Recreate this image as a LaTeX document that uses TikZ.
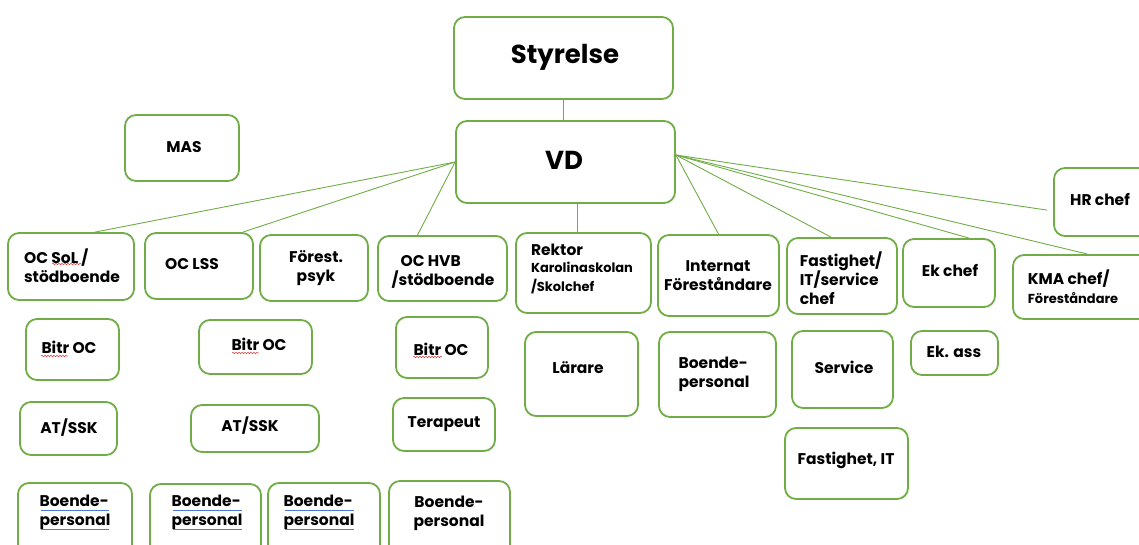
\documentclass[tikz,border=0pt]{standalone}
\usepackage{fontspec}
\setmainfont{Poppins}
\usetikzlibrary{calc,decorations.pathmorphing}

\definecolor{boxgreen}{HTML}{70AD47}
\definecolor{spellred}{HTML}{E03C3C}
\definecolor{gramblue}{HTML}{4A7BD0}

% a rounded box given by its corners (left, top, right, bottom)
\newcommand\orgbox[5]{%
  \node[box, minimum width={#4-#2}, minimum height={#5-#3}] (#1) at ({(#2+#4)/2},{(#3+#5)/2}) {};}
\newcommand\smallsize{\fontsize{13}{15}\selectfont}

\tikzset{
  box/.style={draw=boxgreen, line width=1.8pt, rounded corners=11pt, fill=white, inner sep=0pt},
  lbl/.style={font=\bfseries\fontsize{15.5}{19}\selectfont, inner sep=0pt, align=left},
  big/.style={font=\bfseries\fontsize{26}{30}\selectfont, inner sep=0pt},
  link/.style={draw=boxgreen, line width=0.9pt},
  wavemark/.style={draw=spellred, line width=0.5pt, decorate,
    decoration={snake, segment length=3pt, amplitude=0.8pt}},
  dblmark/.style={draw=gramblue, line width=0.5pt, double distance=1pt, double=white},
}

\begin{document}
\begin{tikzpicture}[x=1pt,y=-1pt]
\useasboundingbox (0,0) rectangle (1139,545);

% top level
\orgbox{styrelse}{454}{17}{673}{99}
\orgbox{vd}{456}{121}{675}{203}
\orgbox{mas}{125}{115}{239}{181}
\orgbox{hr}{1054}{168}{1152}{236}

% heads of units
\orgbox{ocsol}{8}{233}{134}{300}
\orgbox{oclss}{145}{233}{253}{299}
\orgbox{psyk}{260}{235}{368}{301}
\orgbox{ochvb}{378}{236}{507}{301}
\orgbox{rektor}{516}{233}{651}{313}
\orgbox{internat}{658}{235}{779}{316}
\orgbox{fastchef}{787}{238}{897}{314}
\orgbox{ekchef}{903}{239}{995}{307}
\orgbox{kma}{1013}{255}{1152}{319}

% second level
\orgbox{bitrA}{26}{319}{119}{380}
\orgbox{bitrB}{199}{320}{312}{374}
\orgbox{bitrC}{396}{317}{488}{378}
\orgbox{larare}{525}{332}{638}{416}
\orgbox{boendeI}{659}{332}{776}{417}
\orgbox{service}{792}{331}{893}{408}
\orgbox{ekass}{911}{331}{998}{375}
\orgbox{fastit}{785}{428}{908}{499}

% third level
\orgbox{atA}{20}{402}{117}{455}
\orgbox{atB}{191}{405}{319}{452}
\orgbox{terapeut}{393}{398}{495}{451}

% staff
\orgbox{boendeA}{18}{483}{132}{560}
\orgbox{boendeB}{150}{484}{261}{560}
\orgbox{boendeC}{268}{483}{380}{560}
\orgbox{boendeD}{389}{481}{510}{560}

% labels
\node[big] (styrelse-t) at (565,57) {Styrelse};
\node[big] (vd-t) at (564,160) {VD};
\node[lbl] (mas-t) at (184,147) {MAS};
\node[lbl] (hr-t) at (1100,199) {HR chef};

\node[lbl] (ocsol-t) at (72,266) {OC SoL /\\stödboende};
\node[lbl] (oclss-t) at (192,264) {OC LSS};
\node[lbl, align=center] (psyk-t) at (316,268) {Förest.\\psyk};
\node[lbl] (ochvb-t) at (443,272) {\hspace*{9pt}OC HVB\\/stödboende};
\node[lbl] (rektor-t) at (582,269) {Rektor\\[-2pt]\smallsize Karolinaskolan\\\smallsize /Skolchef};
\node[lbl, align=center] (internat-t) at (718,276) {Internat\\Föreståndare};
\node[lbl] (fastchef-t) at (841,278) {Fastighet/\\IT/service\\chef};
\node[lbl] (ekchef-t) at (950,270) {Ek chef};
\node[lbl] (kma-t) at (1073,287) {KMA chef/\\\smallsize Föreståndare};

\node[lbl] (bitrA-t) at (69,347) {Bitr OC};
\node[lbl] (bitrB-t) at (259,344) {Bitr OC};
\node[lbl] (bitrC-t) at (441,349) {Bitr OC};
\node[lbl] (larare-t) at (578,368) {Lärare};
\node[lbl] (boendeI-t) at (714,374) {Boende-\\personal};
\node[lbl] (service-t) at (844,367) {Service};
\node[lbl] (ekass-t) at (954,352) {Ek. ass};
\node[lbl] (fastit-t) at (846,460) {Fastighet, IT};

\node[lbl] (atA-t) at (69,428) {AT/SSK};
\node[lbl] (atB-t) at (250,426) {AT/SSK};
\node[lbl] (terapeut-t) at (444,424) {Terapeut};

\node[lbl] (boendeA-t) at (75,512) {Boende-\\personal};
\node[lbl] (boendeB-t) at (207,512) {Boende-\\personal};
\node[lbl] (boendeC-t) at (319,512) {Boende-\\personal};
\node[lbl, align=center] (boendeD-t) at (449,513) {Boende-\\personal};

% proofing marks
\draw[wavemark] (52,264) -- (82,264);
\draw[wavemark] (41,356) -- (68,356);
\draw[wavemark] (232,353) -- (259,353);
\draw[wavemark] (413,357) -- (442,357);
\foreach \l/\r in {41/109, 173/242, 285/354} {
  \draw[dblmark] (\l,509.5) -- (\r,509.5);
  \draw[dblmark] (\l,530) -- (\r,530);
}

% connectors
\draw[link] (styrelse.south) -- (styrelse.south |- vd.north);
\draw[link] (vd.west) -- ([xshift=24pt]ocsol.north);
\draw[link] (vd.west) -- ([xshift=-11pt]oclss.north east);
\draw[link] (vd.west) -- ([xshift=-25pt]ochvb.north);
\draw[link] ([xshift=11.5pt]vd.south) -- ([xshift=11.5pt]vd.south |- rektor.north);
\coordinate (vdr) at ([yshift=7pt]vd.east);
\draw[link] (vdr) -- (internat.north);
\draw[link] (vdr) -- ([xshift=-11pt]fastchef.north);
\draw[link] (vdr) -- ([xshift=20pt]ekchef.north);
\draw[link] (vdr) -- ([xshift=5pt]kma.north);
\draw[link, shorten >=6pt] (vdr) -- ([yshift=-9pt]hr.west);
\end{tikzpicture}
\end{document}
